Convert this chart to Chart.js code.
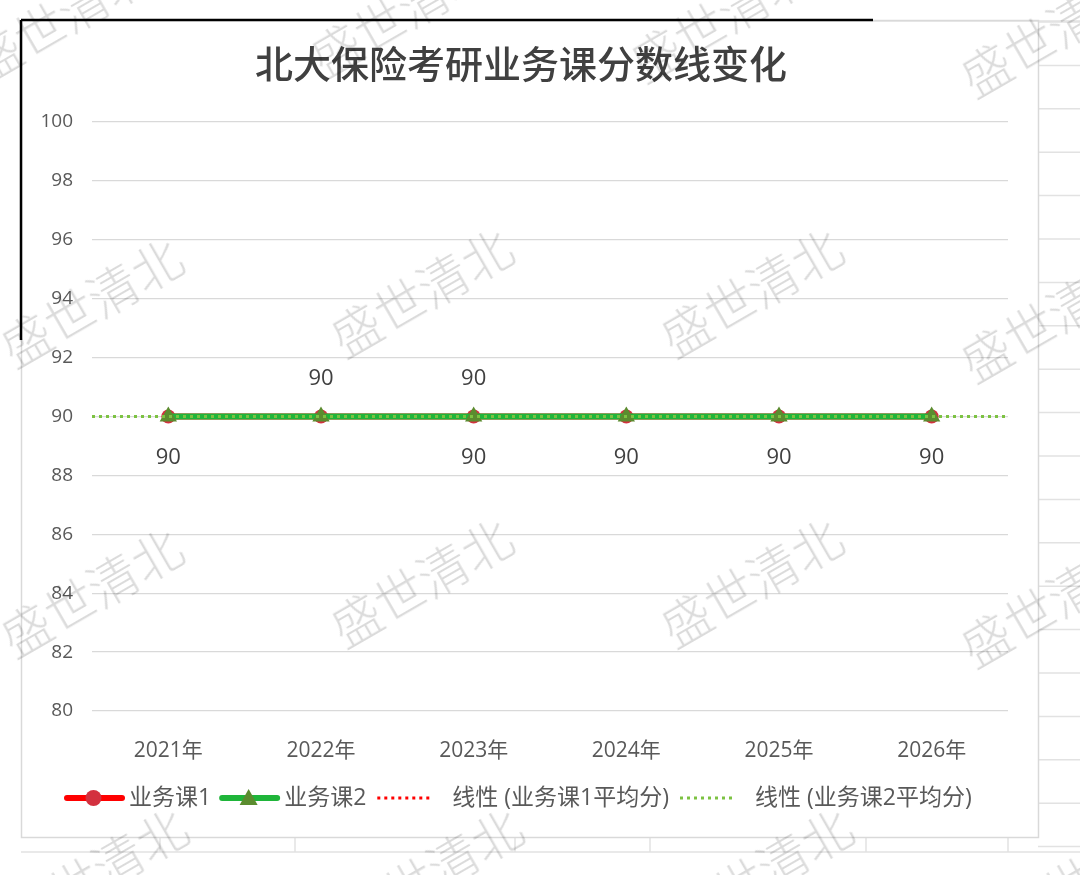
<!DOCTYPE html>
<html>
<head>
<meta charset="utf-8">
<script src="https://cdn.jsdelivr.net/npm/chart.js@4.4.1/dist/chart.umd.min.js"></script>
<style>
    html, body { margin: 0; padding: 0; background: #fff; }
    #wrap { position: relative; width: 1080px; height: 875px; overflow: hidden; }
    #chart { position: absolute; left: 0; top: 0; }
    .wm {
        position: absolute;
        font-family: "Noto Sans CJK SC", sans-serif;
        font-size: 50px;
        font-weight: 300;
        color: rgba(0, 0, 0, 0.14);
        transform: translate(-50%, -50%) rotate(-30deg);
        white-space: nowrap;
        pointer-events: none;
    }
</style>
</head>
<body>
<div id="wrap">
    <canvas id="chart" width="1080" height="875"></canvas>
</div>
<script>
// data
const years = ['2021年', '2022年', '2023年', '2024年', '2025年', '2026年'];
const course1 = [90, 90, 90, 90, 90, 90]; // 业务课1
const course2 = [90, 90, 90, 90, 90, 90]; // 业务课2
const yTicks = { min: 80, max: 100, step: 2 };
// nhãn số liệu hiện trên hình (trên: 业务课1, dưới: 业务课2)
const showLabel1 = [false, true, true, false, false, false];
const showLabel2 = [true, false, true, true, true, true];

const chartTitle = '北大保险考研业务课分数线变化';
const legendNames = ['业务课1', '业务课2', '线性 (业务课1平均分)', '线性 (业务课2平均分)'];

const FONT = '"Open Sans", "Noto Sans CJK SC", sans-serif';

// đường xu hướng tuyến tính (giống Excel), kéo dài nửa ô mỗi bên
function trendLine(vals) {
    const n = vals.length;
    let sx = 0, sy = 0, sxy = 0, sxx = 0;
    vals.forEach((v, i) => { sx += i; sy += v; sxy += i * v; sxx += i * i; });
    const slope = (n * sxy - sx * sy) / (n * sxx - sx * sx);
    const icpt = (sy - slope * sx) / n;
    return [{ x: -0.5, y: icpt - 0.5 * slope }, { x: n - 0.5, y: icpt + (n - 0.5) * slope }];
}

// nền bảng tính + khung biểu đồ
const sheetPlugin = {
    id: 'sheet',
    beforeDraw(chart) {
        const c = chart.ctx;
        const line = (x1, y1, x2, y2) => { c.beginPath(); c.moveTo(x1, y1); c.lineTo(x2, y2); c.stroke(); };
        c.save();
        c.strokeStyle = '#e2e2e2';
        c.lineWidth = 1.5;
        for (let y = 22; y < 875; y += 43.4) line(1038, y, 1080, y);
        line(873, 21, 1080, 21);
        line(21, 852, 1080, 852);
        [160, 295, 515, 650, 866, 1008].forEach(x => line(x, 837, x, 852));
        c.strokeStyle = '#d9d9d9';
        c.strokeRect(21.5, 20.5, 1017, 817);
        c.strokeStyle = '#000';
        c.lineWidth = 2.5;
        line(21, 20, 873, 20);
        line(21, 20, 21, 340);
        c.restore();
    }
};

// tiêu đề, nhãn số liệu, chú thích
const decoPlugin = {
    id: 'deco',
    afterDatasetsDraw(chart) {
        const c = chart.ctx;
        c.save();
        c.font = '22px ' + FONT;
        c.fillStyle = '#404040';
        c.textAlign = 'center';
        c.textBaseline = 'middle';
        const m1 = chart.getDatasetMeta(0), m2 = chart.getDatasetMeta(1);
        course1.forEach((v, i) => {
            if (showLabel1[i]) c.fillText(String(v), m1.data[i].x, m1.data[i].y - 38);
        });
        course2.forEach((v, i) => {
            if (showLabel2[i]) c.fillText(String(v), m2.data[i].x, m2.data[i].y + 41);
        });
        c.restore();
    },
    afterDraw(chart) {
        const c = chart.ctx;
        c.save();
        c.font = '500 38px "Noto Sans CJK SC", sans-serif';
        c.fillStyle = '#404040';
        c.textAlign = 'center';
        c.textBaseline = 'middle';
        c.fillText(chartTitle, 521, 64);

        // chú thích
        const ly = 798;
        let x = 65;
        c.font = '23px ' + FONT;
        c.textAlign = 'left';
        c.fillStyle = '#595959';
        chart.data.datasets.forEach((ds, k) => {
            const w = 57;
            c.save();
            c.strokeStyle = ds.borderColor;
            c.lineWidth = k < 2 ? 6 : 3;
            c.lineCap = k < 2 ? 'round' : 'butt';
            if (k >= 2) c.setLineDash([3, 4]);
            c.beginPath(); c.moveTo(x + 2, ly); c.lineTo(x + w, ly); c.stroke();
            c.restore();
            const cx = x + w / 2;
            c.save();
            c.fillStyle = ds.pointBackgroundColor;
            if (k === 0) {
                c.beginPath(); c.arc(cx, ly, 8, 0, Math.PI * 2); c.fill();
            } else if (k === 1) {
                c.beginPath(); c.moveTo(cx, ly - 9); c.lineTo(cx + 9, ly + 7); c.lineTo(cx - 9, ly + 7); c.closePath(); c.fill();
            }
            c.restore();
            x += w + (k < 2 ? 7 : 20);
            c.fillText(legendNames[k], x, ly);
            x += c.measureText(legendNames[k]).width + 9;
        });
        c.restore();
    }
};

const config = {
    type: 'line',
    data: {
        labels: years,
        datasets: [
            {
                label: legendNames[0],
                data: course1,
                borderColor: '#ff0000',
                borderWidth: 6,
                pointStyle: 'circle',
                pointRadius: 7,
                pointBackgroundColor: '#d3313f',
                pointBorderWidth: 0,
                order: 4
            },
            {
                label: legendNames[1],
                data: course2,
                borderColor: '#1fb53a',
                borderWidth: 6,
                pointStyle: 'triangle',
                pointRadius: 10,
                pointBackgroundColor: '#5b8c2f',
                pointBorderWidth: 0,
                order: 3
            },
            {
                label: legendNames[2],
                data: trendLine(course1),
                xAxisID: 'xTrend',
                borderColor: '#ff0000',
                borderWidth: 3,
                borderDash: [3, 4],
                pointRadius: 0,
                order: 2
            },
            {
                label: legendNames[3],
                data: trendLine(course2),
                xAxisID: 'xTrend',
                borderColor: '#7cc242',
                borderWidth: 3,
                borderDash: [3, 4],
                pointRadius: 0,
                order: 1
            }
        ]
    },
    options: {
        responsive: false,
        animation: false,
        layout: { padding: { top: 122, left: 0, right: 72, bottom: 114 } },
        plugins: {
            legend: { display: false },
            title: { display: false },
            tooltip: { enabled: false }
        },
        scales: {
            x: {
                type: 'category',
                offset: true,
                grid: { display: false },
                border: { display: false },
                ticks: { padding: 19, color: '#595959', font: { size: 21, family: FONT } },
                afterFit(s) { s.height = 50; }
            },
            xTrend: {
                type: 'linear',
                position: 'bottom',
                display: false,
                min: -0.5,
                max: years.length - 0.5
            },
            y: {
                min: yTicks.min,
                max: yTicks.max,
                ticks: { stepSize: yTicks.step, padding: 19, color: '#595959', font: { size: 19, family: FONT } },
                grid: { color: '#d9d9d9', lineWidth: 1.3, drawTicks: false },
                border: { display: false },
                afterFit(s) { s.width = 92; }
            }
        }
    },
    plugins: [sheetPlugin, decoPlugin]
};

const ctx = document.getElementById('chart').getContext('2d');
const scoreChart = new Chart(ctx, config);

// watermark
const wmPos = [
    [60, 15], [400, 10], [720, 15], [1050, 30],
    [90, 300], [420, 290], [750, 290], [1050, 315],
    [90, 590], [420, 580], [750, 580], [1050, 600],
    [95, 870], [430, 870], [760, 870], [1090, 870]
];
const wrap = document.getElementById('wrap');
wmPos.forEach(p => {
    const d = document.createElement('div');
    d.className = 'wm';
    d.textContent = '盛世清北';
    d.style.left = p[0] + 'px';
    d.style.top = p[1] + 'px';
    wrap.appendChild(d);
});
</script>
</body>
</html>
